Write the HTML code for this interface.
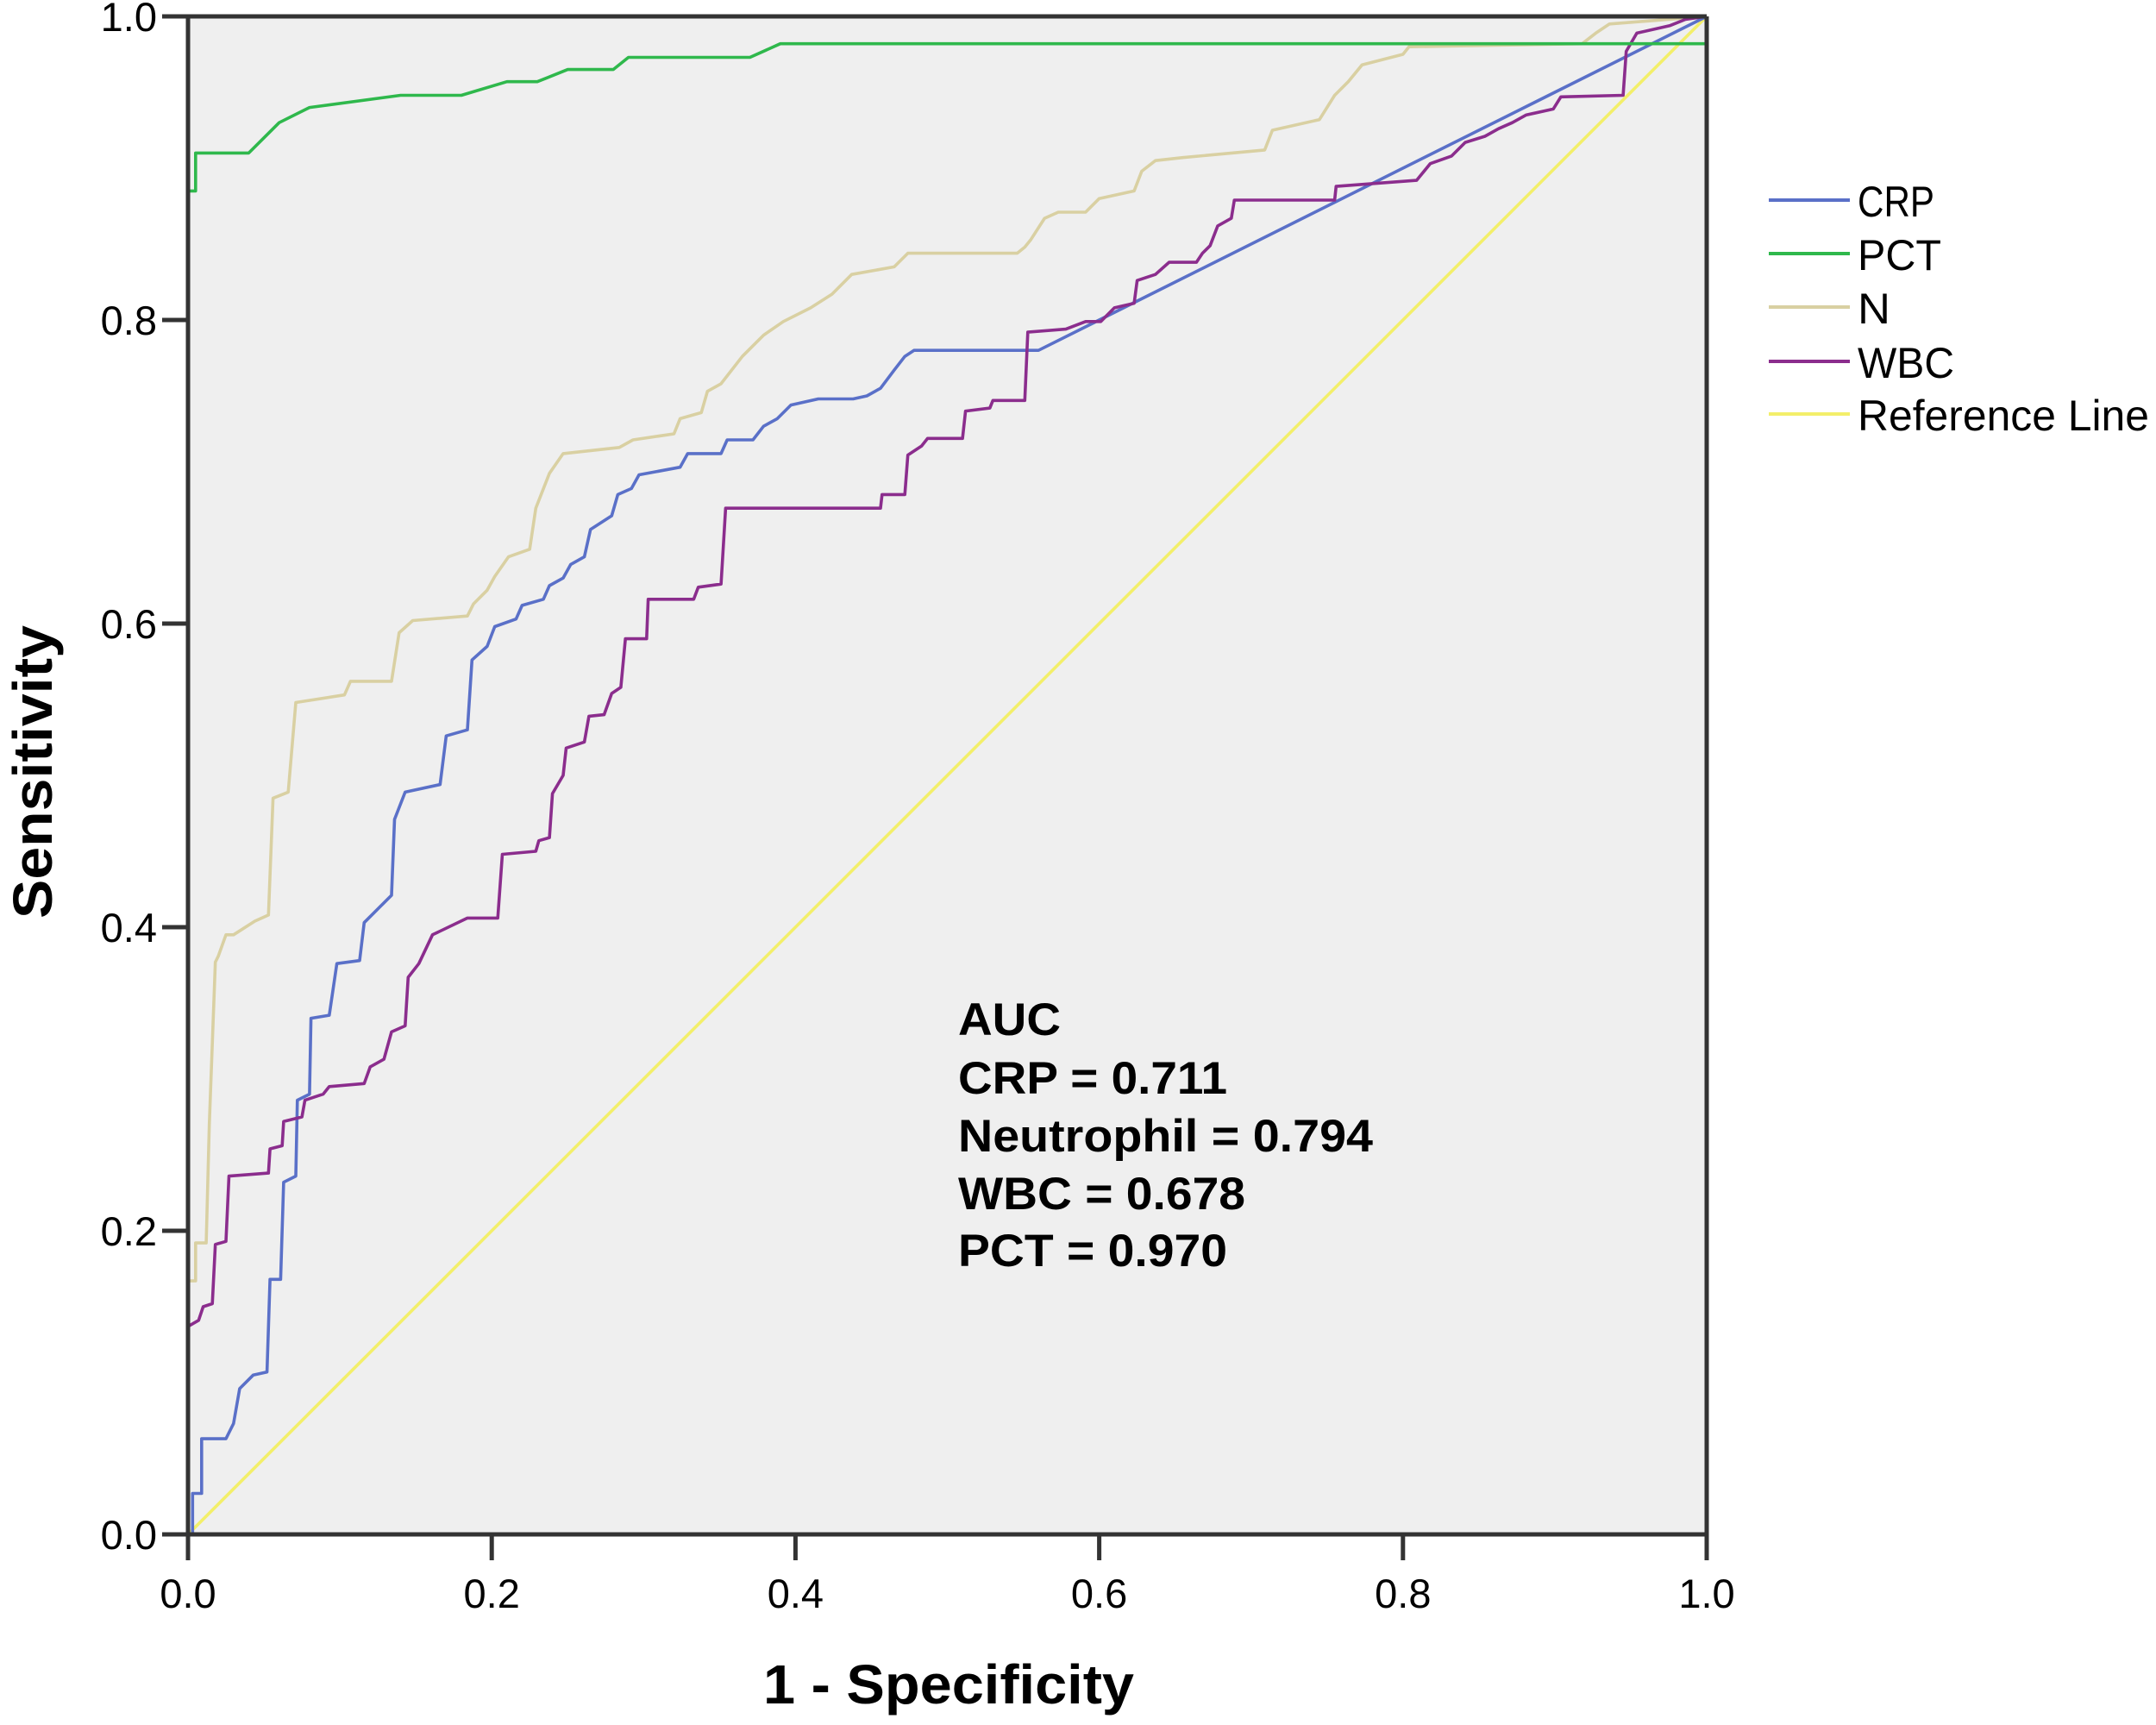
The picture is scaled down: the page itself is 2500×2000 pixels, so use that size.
<!DOCTYPE html>
<html><head><meta charset="utf-8"><style>
html,body{margin:0;padding:0;background:#fff;}
svg{display:block;font-family:"Liberation Sans",Arial,sans-serif;}
</style></head><body>
<svg id="chart" width="2500" height="2000" viewBox="0 0 2500 2000" xmlns="http://www.w3.org/2000/svg">
<rect x="0" y="0" width="2500" height="2000" fill="#fff"/>
<rect x="218" y="19" width="1761" height="1760" fill="#efefef"/>
<g id="series"></g>
<g id="axes"></g>
<g font-weight="bold" font-size="53" fill="#000">
<text x="1111" y="1200" textLength="119" lengthAdjust="spacingAndGlyphs">AUC</text>
<text x="1111" y="1268" textLength="312" lengthAdjust="spacingAndGlyphs">CRP = 0.711</text>
<text x="1111" y="1335" textLength="481" lengthAdjust="spacingAndGlyphs">Neutrophil = 0.794</text>
<text x="1111" y="1402" textLength="333" lengthAdjust="spacingAndGlyphs">WBC = 0.678</text>
<text x="1111" y="1468" textLength="312" lengthAdjust="spacingAndGlyphs">PCT = 0.970</text>
</g>
<text x="1100" y="1975" text-anchor="middle" font-weight="bold" font-size="64" textLength="430" lengthAdjust="spacingAndGlyphs">1 - Specificity</text>
<text x="0" y="0" transform="translate(60,895) rotate(-90)" text-anchor="middle" font-weight="bold" font-size="64" textLength="340" lengthAdjust="spacingAndGlyphs">Sensitivity</text>
<g id="legend"></g>
</svg>
<script>
const xTicks=[0,0.2,0.4,0.6,0.8,1.0];
const yTicks=[0,0.2,0.4,0.6,0.8,1.0];
const tickLabels=["0.0","0.2","0.4","0.6","0.8","1.0"];
const seriesNames=["CRP","PCT","N","WBC","Reference Line"];
const seriesColors=["#5a70c8","#2fb84c","#d9d0a2","#8b2d8d","#f3ef6a"];
const crpX=[0,0.003,0.003,0.009,0.009,0.025,0.03,0.034,0.043,0.052,0.054,0.061,0.063,0.071,0.072,0.08,0.081,0.093,0.098,0.113,0.116,0.125,0.134,0.136,0.143,0.166,0.17,0.184,0.187,0.197,0.202,0.216,0.22,0.234,0.238,0.247,0.252,0.261,0.265,0.279,0.283,0.292,0.297,0.324,0.329,0.351,0.355,0.372,0.379,0.388,0.397,0.415,0.438,0.447,0.456,0.465,0.472,0.478,0.56,1];
const crpY=[0,0,0.027,0.027,0.063,0.063,0.073,0.096,0.105,0.107,0.168,0.168,0.232,0.236,0.286,0.29,0.34,0.342,0.376,0.378,0.403,0.412,0.421,0.471,0.489,0.494,0.526,0.53,0.576,0.585,0.598,0.603,0.612,0.616,0.625,0.63,0.639,0.644,0.662,0.671,0.685,0.689,0.698,0.703,0.712,0.712,0.721,0.721,0.73,0.735,0.744,0.748,0.748,0.75,0.755,0.767,0.776,0.78,0.78,1];
const pctX=[0,0,0.005,0.005,0.04,0.06,0.08,0.14,0.18,0.21,0.23,0.25,0.28,0.29,0.37,0.39,0.42,0.99,1,1];
const pctY=[0,0.885,0.885,0.91,0.91,0.93,0.94,0.948,0.948,0.957,0.957,0.965,0.965,0.973,0.973,0.982,0.982,0.982,0.982,1];
const nX=[0,0,0.005,0.005,0.012,0.014,0.018,0.02,0.025,0.03,0.044,0.053,0.056,0.066,0.071,0.103,0.107,0.134,0.139,0.148,0.184,0.188,0.197,0.202,0.211,0.225,0.229,0.238,0.247,0.284,0.293,0.32,0.324,0.338,0.342,0.351,0.365,0.379,0.392,0.41,0.424,0.437,0.465,0.474,0.546,0.551,0.555,0.564,0.573,0.591,0.6,0.623,0.628,0.637,0.655,0.709,0.714,0.745,0.755,0.764,0.773,0.8,0.804,0.918,0.927,0.936,1];
const nY=[0,0.167,0.167,0.192,0.192,0.27,0.377,0.381,0.395,0.395,0.404,0.408,0.485,0.489,0.548,0.553,0.562,0.562,0.594,0.602,0.605,0.613,0.622,0.631,0.644,0.649,0.676,0.699,0.712,0.716,0.721,0.725,0.735,0.739,0.753,0.758,0.776,0.79,0.799,0.808,0.817,0.83,0.835,0.844,0.844,0.848,0.853,0.867,0.871,0.871,0.88,0.885,0.898,0.905,0.907,0.912,0.925,0.932,0.948,0.957,0.968,0.975,0.98,0.982,0.989,0.995,1];
const wbcX=[0,0,0.007,0.01,0.016,0.018,0.025,0.027,0.053,0.054,0.062,0.063,0.075,0.077,0.089,0.093,0.116,0.12,0.129,0.134,0.143,0.145,0.152,0.161,0.184,0.204,0.207,0.229,0.231,0.238,0.24,0.247,0.249,0.261,0.264,0.274,0.279,0.285,0.288,0.302,0.303,0.333,0.336,0.351,0.354,0.456,0.457,0.472,0.474,0.483,0.487,0.51,0.512,0.528,0.53,0.551,0.553,0.578,0.591,0.601,0.61,0.623,0.625,0.637,0.646,0.664,0.668,0.673,0.678,0.687,0.689,0.755,0.756,0.809,0.818,0.832,0.841,0.854,0.863,0.872,0.881,0.899,0.904,0.945,0.947,0.954,0.976,0.986,1];
const wbcY=[0,0.137,0.141,0.15,0.152,0.191,0.193,0.236,0.238,0.254,0.256,0.272,0.275,0.286,0.29,0.295,0.297,0.308,0.313,0.331,0.335,0.367,0.376,0.395,0.406,0.406,0.448,0.45,0.457,0.459,0.488,0.5,0.518,0.522,0.539,0.54,0.554,0.558,0.59,0.59,0.616,0.616,0.624,0.626,0.676,0.676,0.685,0.685,0.711,0.717,0.722,0.722,0.74,0.742,0.747,0.747,0.792,0.794,0.799,0.799,0.808,0.811,0.826,0.83,0.838,0.838,0.844,0.849,0.862,0.867,0.879,0.879,0.888,0.892,0.903,0.908,0.917,0.921,0.926,0.93,0.935,0.939,0.947,0.948,0.977,0.989,0.994,0.998,1];
const refX=[0,1];
const refY=[0,1];

const NS="http://www.w3.org/2000/svg";
const X0=218,X1=1979,Y0=1779,Y1=19;
function sx(v){return X0+v*(X1-X0);}
function sy(v){return Y0-v*(Y0-Y1);}
const sg=document.getElementById('series');
function drawLine(xs,ys,color,name){
  const p=document.createElementNS(NS,'polyline');
  p.setAttribute('points',xs.map((x,i)=>sx(x).toFixed(1)+','+sy(ys[i]).toFixed(1)).join(' '));
  p.setAttribute('fill','none');p.setAttribute('stroke',color);p.setAttribute('stroke-width','3.6');
  p.setAttribute('stroke-linejoin','round');
  
  
  sg.appendChild(p);
}
drawLine(refX,refY,seriesColors[4],'reference-line');
drawLine(nX,nY,seriesColors[2],'n-curve');
drawLine(crpX,crpY,seriesColors[0],'crp-curve');
drawLine(wbcX,wbcY,seriesColors[3],'wbc-curve');
drawLine(pctX,pctY,seriesColors[1],'pct-curve');

const ag=document.getElementById('axes');
function ln(x1,y1,x2,y2,w,name){
  const l=document.createElementNS(NS,'line');
  l.setAttribute('x1',x1);l.setAttribute('y1',y1);l.setAttribute('x2',x2);l.setAttribute('y2',y2);
  l.setAttribute('stroke','#333');l.setAttribute('stroke-width',w);
  
  
  ag.appendChild(l);
}
ln(X0,Y1,X1,Y1,5,'plot-frame-top');
ln(X1,Y1,X1,Y0,5,'plot-frame-right');
ln(X0,Y1-2,X0,Y0+2,5,'y-axis-line');
ln(X0-2,Y0,X1+2,Y0,5,'x-axis-line');
function txt(x,y,s,anchor,name){
  const t=document.createElementNS(NS,'text');
  t.setAttribute('x',x);t.setAttribute('y',y);t.setAttribute('text-anchor',anchor);
  t.setAttribute('font-size','47');t.textContent=s;
  
  
  ag.appendChild(t);
}
xTicks.forEach((v,i)=>{ln(sx(v),Y0,sx(v),Y0+30,5,'x-tick');txt(sx(v),Y0+85,tickLabels[i],'middle','x-tick-label');});
yTicks.forEach((v,i)=>{ln(X0-30,sy(v),X0,sy(v),5,'y-tick');txt(X0-36,sy(v)+17,tickLabels[i],'end','y-tick-label');});

const lg=document.getElementById('legend');
const legY=[232,294,356,419,480];
const legW=[89,97,38,112,338];
seriesNames.forEach((n,i)=>{
  const l=document.createElementNS(NS,'line');
  l.setAttribute('x1',2051);l.setAttribute('x2',2145);l.setAttribute('y1',legY[i]);l.setAttribute('y2',legY[i]);
  l.setAttribute('stroke',seriesColors[i]);l.setAttribute('stroke-width','4');
  
  
  lg.appendChild(l);
  const t=document.createElementNS(NS,'text');
  t.setAttribute('x',2154);t.setAttribute('y',legY[i]+19);t.setAttribute('font-size','50');
  t.setAttribute('textLength',legW[i]);t.setAttribute('lengthAdjust','spacingAndGlyphs');
  t.textContent=n;
  
  
  lg.appendChild(t);
});
</script>
</body></html>
